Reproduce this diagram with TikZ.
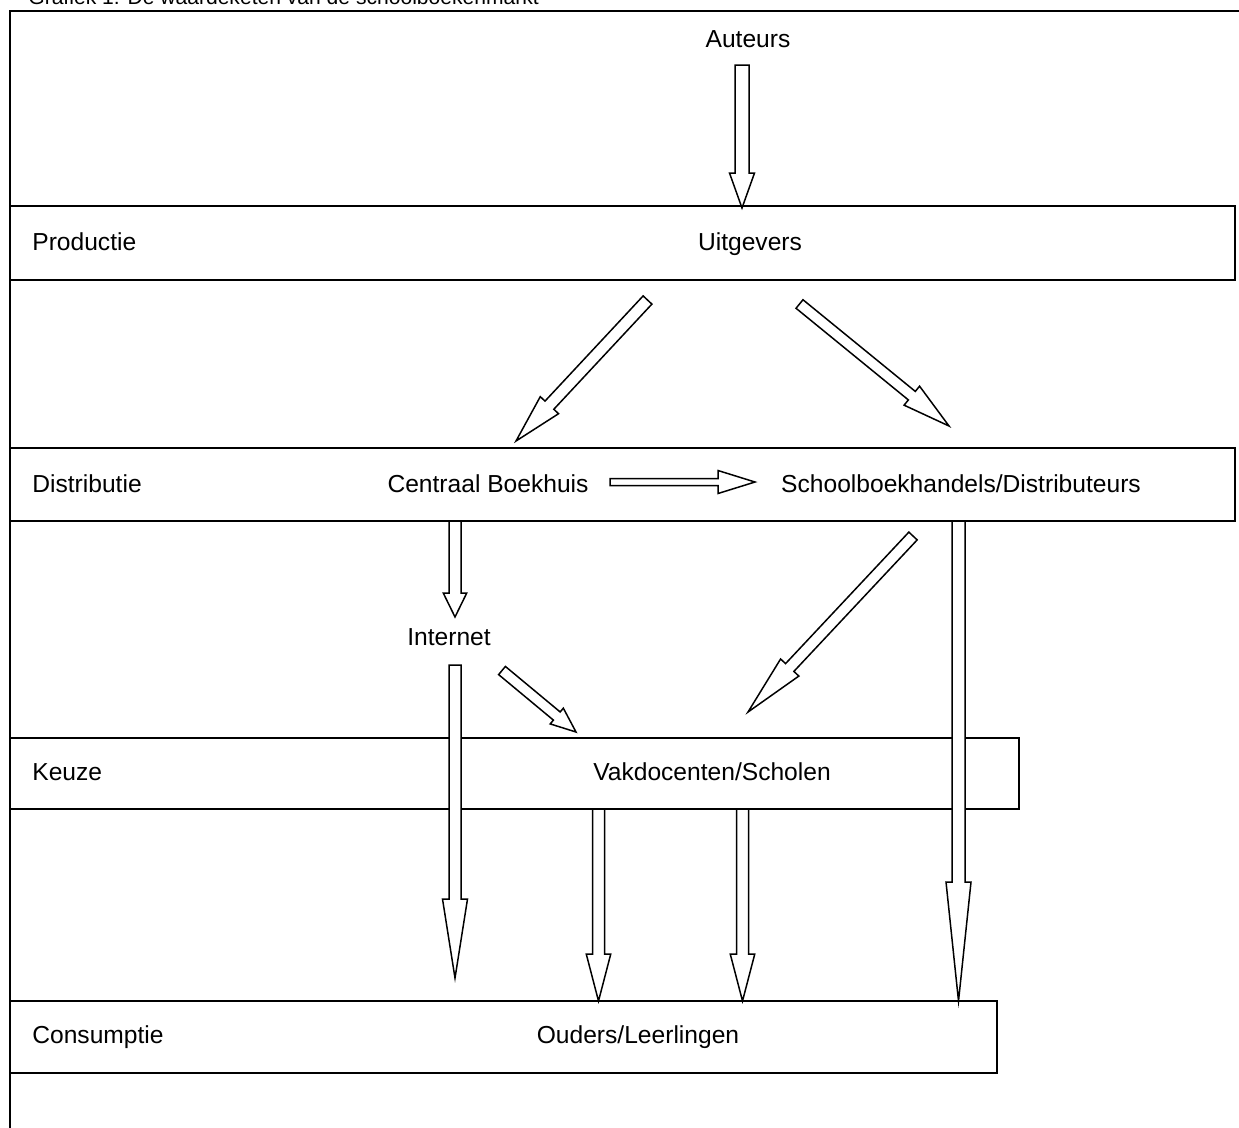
\documentclass[tikz,border=0pt]{standalone}
\usepackage{fontspec}
\setmainfont{Liberation Sans}
\usepackage{tikz}
\usetikzlibrary{calc}

% outlined block arrow: tail, tip, shaft half width, head half width, head length
\newcommand{\blockarrow}[5]{%
\coordinate (hb) at ($(#2)!#5!(#1)$);
\draw[arrowline] ($(#1)!#3!90:(#2)$) -- ($(hb)!#3!90:(#2)$) -- ($(hb)!#4!90:(#2)$) -- (#2)
  -- ($(hb)!#4!-90:(#2)$) -- ($(hb)!#3!-90:(#2)$) -- ($(#1)!#3!-90:(#2)$) -- cycle;
}

\tikzset{
  band/.style={line width=1.1pt},
  frame/.style={line width=1.2pt},
  arrowline/.style={line width=0.85pt, fill=white, line join=miter},
  lbl/.style={font=\fontsize{14}{17}\selectfont, inner sep=0pt, anchor=base},
}

\begin{document}
\begin{tikzpicture}[x=0.02cm,y=-0.02cm]
\useasboundingbox (0,0) rectangle (1239,1127);
\clip (0,0) rectangle (1239,1127);
%
\node[anchor=base west, font=\fontsize{12}{14}\selectfont, inner sep=0pt] (caption) at (28,4) {Grafiek 1: De waardeketen van de schoolboekenmarkt};
\draw[frame] (10,1140) -- (10,11) -- (1250,11);
%
\draw[band] (10,206) rectangle (1235,280);
\draw[band] (10,448) rectangle (1235,521);
\draw[band] (10,738) rectangle (1019,809);
\draw[band] (10,1001) rectangle (997,1073);
%
\node[lbl] (auteurs) at (748,47) {Auteurs};
\node[lbl] (uitgevers) at (750,250) {Uitgevers};
\node[lbl, anchor=base west] (productie) at (32,250) {Productie};
\node[lbl, anchor=base west] (distributie) at (32,492) {Distributie};
\node[lbl] (boekhuis) at (488,492) {Centraal Boekhuis};
\node[lbl] (handels) at (961,492) {Schoolboekhandels/Distributeurs};
\node[lbl] (internet) at (449,645) {Internet};
\node[lbl, anchor=base west] (keuze) at (32,780) {Keuze};
\node[lbl] (scholen) at (712,780) {Vakdocenten/Scholen};
\node[lbl, anchor=base west] (consumptie) at (32,1043) {Consumptie};
\node[lbl] (ouders) at (638,1043) {Ouders/Leerlingen};
%
\coordinate (a1t) at (742,65);    \coordinate (a1h) at (742,208);
\coordinate (a2t) at (647.5,300); \coordinate (a2h) at (516,441);
\coordinate (a3t) at (799.5,304); \coordinate (a3h) at (949,426);
\coordinate (a4t) at (610,482);   \coordinate (a4h) at (755,482);
\coordinate (a5t) at (455,521);   \coordinate (a5h) at (455,617);
\coordinate (a6t) at (455,665);   \coordinate (a6h) at (455,978);
\coordinate (a7t) at (502,670.5); \coordinate (a7h) at (576,732);
\coordinate (a8t) at (913,536);   \coordinate (a8h) at (748,712);
\coordinate (a9t) at (958.5,521); \coordinate (a9h) at (958.5,1001);
\coordinate (a10t) at (598.5,809); \coordinate (a10h) at (598.5,1001);
\coordinate (a11t) at (742.5,809); \coordinate (a11h) at (742.5,1001);
%
\blockarrow{a1t}{a1h}{0.14cm}{0.25cm}{0.7cm}
\blockarrow{a2t}{a2h}{0.12cm}{0.25cm}{0.98cm}
\blockarrow{a3t}{a3h}{0.11cm}{0.245cm}{0.96cm}
\blockarrow{a4t}{a4h}{0.07cm}{0.23cm}{0.74cm}
\blockarrow{a5t}{a5h}{0.12cm}{0.235cm}{0.48cm}
\blockarrow{a6t}{a6h}{0.12cm}{0.25cm}{1.58cm}
\blockarrow{a7t}{a7h}{0.106cm}{0.205cm}{0.5cm}
\blockarrow{a8t}{a8h}{0.114cm}{0.25cm}{1.22cm}
\blockarrow{a9t}{a9h}{0.13cm}{0.25cm}{2.38cm}
\blockarrow{a10t}{a10h}{0.12cm}{0.245cm}{0.94cm}
\blockarrow{a11t}{a11h}{0.12cm}{0.245cm}{0.94cm}
\end{tikzpicture}
\end{document}
